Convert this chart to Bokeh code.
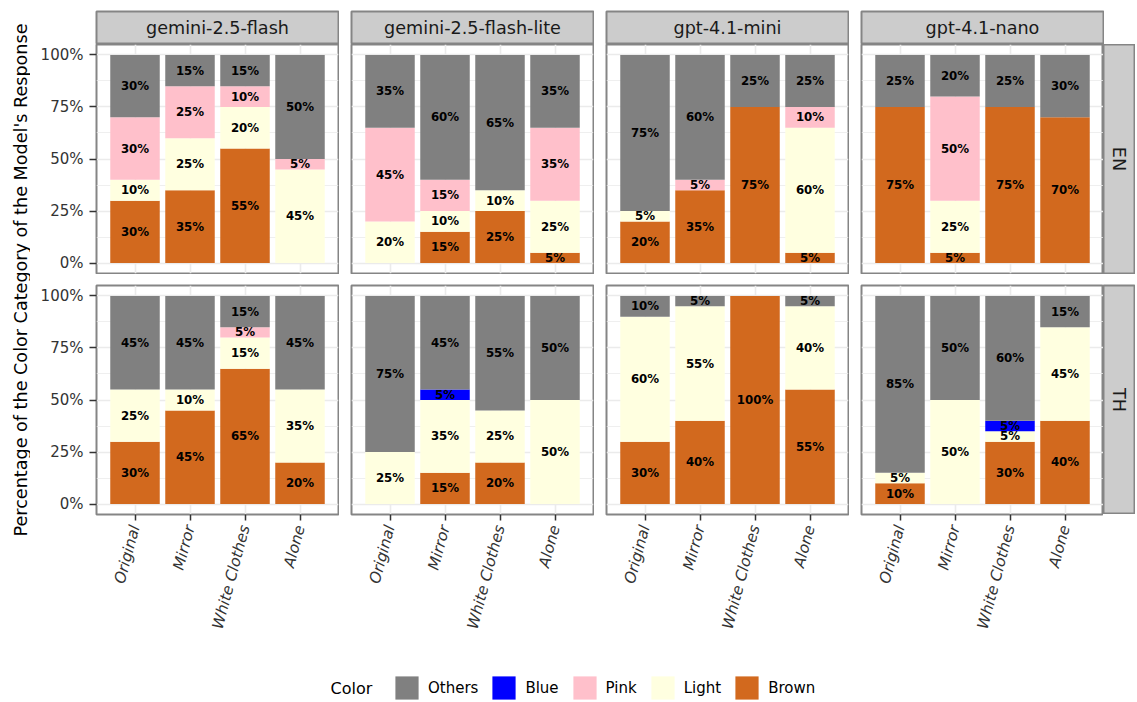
import math
from bokeh.plotting import figure
from bokeh.models import (ColumnDataSource, FactorRange, Range1d, FixedTicker,
                          NumeralTickFormatter, Legend, LegendItem, Label, Spacer)
from bokeh.layouts import row, column
from bokeh.core.properties import value
from bokeh.embed import file_html
from bokeh.resources import INLINE

# ---------------- data ----------------
models = ["gemini-2.5-flash", "gemini-2.5-flash-lite", "gpt-4.1-mini", "gpt-4.1-nano"]
languages = ["EN", "TH"]
conditions = ["Original", "Mirror", "White Clothes", "Alone"]
stack_order = ["Brown", "Light", "Pink", "Blue", "Others"]      # bottom -> top
legend_order = ["Others", "Blue", "Pink", "Light", "Brown"]

# percentages, model by model (4 conditions per model)
brown_EN  = [30, 35, 55, 0,   0, 15, 25, 5,   20, 35, 75, 5,   75, 5, 75, 70]
light_EN  = [10, 25, 20, 45,  20, 10, 10, 25,  5, 0, 0, 60,     0, 25, 0, 0]
pink_EN   = [30, 25, 10, 5,   45, 15, 0, 35,   0, 5, 0, 10,     0, 50, 0, 0]
blue_EN   = [0, 0, 0, 0,      0, 0, 0, 0,      0, 0, 0, 0,      0, 0, 0, 0]
others_EN = [30, 15, 15, 50,  35, 60, 65, 35,  75, 60, 25, 25,  25, 20, 25, 30]

brown_TH  = [30, 45, 65, 20,  0, 15, 20, 0,    30, 40, 100, 55, 10, 0, 30, 40]
light_TH  = [25, 10, 15, 35,  25, 35, 25, 50,  60, 55, 0, 40,   5, 50, 5, 45]
pink_TH   = [0, 0, 5, 0,      0, 0, 0, 0,      0, 0, 0, 0,      0, 0, 0, 0]
blue_TH   = [0, 0, 0, 0,      0, 5, 0, 0,      0, 0, 0, 0,      0, 0, 5, 0]
others_TH = [45, 45, 15, 45,  75, 45, 55, 50,  10, 5, 0, 5,     85, 50, 60, 15]

data = {
    "EN": {"Brown": brown_EN, "Light": light_EN, "Pink": pink_EN, "Blue": blue_EN, "Others": others_EN},
    "TH": {"Brown": brown_TH, "Light": light_TH, "Pink": pink_TH, "Blue": blue_TH, "Others": others_TH},
}

palette = {"Brown": "#D2691E", "Light": "#FFFFE0", "Pink": "#FFC0CB",
           "Blue": "#0000FF", "Others": "#808080"}

# ---------------- style ----------------
FONT = "DejaVu Sans"
BORDER = "#858585"
STRIP_BG = "#CCCCCC"
GRID = "#EBEBEB"
FW, FH = 242, 229
GAP = 11
TITLE_W = 30
LEFT_AXIS = 66


def make_panel(lang, mi):
    first = mi == 0
    last = mi == len(models) - 1
    bottom = lang == languages[-1]
    p = figure(x_range=FactorRange(factors=conditions, range_padding=0.2,
                                   range_padding_units="absolute"),
               y_range=Range1d(-0.05, 1.05),
               frame_width=FW, frame_height=FH,
               min_border_left=LEFT_AXIS if first else 1,
               min_border_right=0 if last else 1,
               min_border_top=1 if bottom else 0,
               min_border_bottom=0 if bottom else 1,
               x_axis_location="below" if bottom else None,
               y_axis_location="left" if first else None,
               toolbar_location=None, output_backend="svg")
    p.background_fill_color = "white"
    p.border_fill_color = "white"
    p.outline_line_color = BORDER
    p.outline_line_width = 2

    p.xgrid.grid_line_color = GRID
    p.xgrid.grid_line_width = 1.6
    p.ygrid.ticker = FixedTicker(ticks=[0, 0.25, 0.5, 0.75, 1.0],
                                 minor_ticks=[0.125, 0.375, 0.625, 0.875])
    p.ygrid.grid_line_color = GRID
    p.ygrid.grid_line_width = 1.6
    p.ygrid.minor_grid_line_color = GRID
    p.ygrid.minor_grid_line_width = 0.8

    vals = {c: data[lang][c][mi * 4:(mi + 1) * 4] for c in stack_order}
    src = ColumnDataSource(dict(cond=conditions, **{c: [v / 100 for v in vals[c]] for c in stack_order}))
    p.vbar_stack(stack_order, x="cond", width=0.9, source=src,
                 fill_color=[palette[c] for c in stack_order], line_color=None)

    lx, ly, lt = [], [], []
    for ci, cond in enumerate(conditions):
        base = 0.0
        for c in stack_order:
            v = vals[c][ci]
            if v > 0:
                lx.append(cond)
                ly.append((base + v / 2) / 100)
                lt.append(f"{v}%")
            base += v
    p.text(x="cond", y="y", text="t", source=ColumnDataSource(dict(cond=lx, y=ly, t=lt)),
           text_font=value(FONT), text_font_size="11.8px", text_font_style="bold",
           text_align="center", text_baseline="middle", text_color="black")

    if first:
        ax = p.yaxis[0]
        ax.ticker = FixedTicker(ticks=[0, 0.25, 0.5, 0.75, 1.0])
        ax.formatter = NumeralTickFormatter(format="0%")
        ax.major_label_text_font = FONT
        ax.major_label_text_font_size = "15px"
        ax.major_label_text_color = "#333333"
        ax.axis_line_color = None
        ax.minor_tick_line_color = None
        ax.major_tick_in = 0
        ax.major_tick_out = 7
        ax.major_tick_line_color = "#333333"
        ax.major_tick_line_width = 1.5
        ax.major_label_standoff = 6
    if bottom:
        ax = p.xaxis[0]
        ax.major_label_orientation = math.radians(75)
        ax.major_label_text_font = FONT
        ax.major_label_text_font_size = "15.3px"
        ax.major_label_text_font_style = "italic"
        ax.major_label_text_color = "#333333"
        ax.axis_line_color = None
        ax.minor_tick_line_color = None
        ax.major_tick_in = 0
        ax.major_tick_out = 6
        ax.major_tick_line_color = "#333333"
        ax.major_tick_line_width = 1.5
        ax.major_label_standoff = 5
    return p


def make_strip(text, fw, fh, vertical, left, right, top, bottom):
    s = figure(x_range=Range1d(0, 1), y_range=Range1d(0, 1),
               frame_width=fw, frame_height=fh,
               min_border_left=left, min_border_right=right,
               min_border_top=top, min_border_bottom=bottom,
               x_axis_type=None, y_axis_type=None,
               toolbar_location=None, output_backend="svg")
    s.background_fill_color = STRIP_BG
    s.border_fill_color = "white"
    s.outline_line_color = BORDER
    s.outline_line_width = 2
    s.xgrid.visible = False
    s.ygrid.visible = False
    s.text(x=[0.5], y=[0.5], text=[text], angle=-math.pi / 2 if vertical else 0,
           text_font=value(FONT), text_font_size="17.6px", text_color="#1A1A1A",
           text_align="center", text_baseline="middle")
    return s


# top strips
top_children = [Spacer(width=LEFT_AXIS - 1, height=44)]
for mi, m in enumerate(models):
    if mi > 0:
        top_children.append(Spacer(width=GAP, height=44))
    top_children.append(make_strip(m, FW, 33, False, 1, 1, 11, 0))
top_row = row(*top_children)

panel_rows = []
for li, lang in enumerate(languages):
    kids = []
    for mi in range(len(models)):
        if mi > 0:
            kids.append(Spacer(width=GAP, height=10))
        kids.append(make_panel(lang, mi))
    bottom = li == len(languages) - 1
    kids.append(make_strip(lang, 31, FH, True, 0, 1, 1 if bottom else 0, 0 if bottom else 1))
    panel_rows.append(row(*kids))
    if li == 0:
        panel_rows.append(Spacer(width=10, height=10))

# y-axis title (spans the full height of the panel area)
TH_ = 600
t = figure(x_range=Range1d(0, TITLE_W), y_range=Range1d(0, TH_),
           frame_width=TITLE_W, frame_height=TH_,
           min_border=0, x_axis_type=None, y_axis_type=None,
           toolbar_location=None, output_backend="svg")
t.outline_line_color = None
t.xgrid.visible = False
t.ygrid.visible = False
t.text(x=[20], y=[TH_ - 279.5], text=["Percentage of the Color Category of the Model's Response"],
       angle=math.pi / 2, text_font=value(FONT), text_font_size="17.6px", text_color="black",
       text_align="center", text_baseline="middle")

main = row(t, column(top_row, *panel_rows))

# legend
lf = figure(x_range=Range1d(0, 1), y_range=Range1d(0, 1), frame_width=1136, frame_height=66,
            min_border=0, x_axis_type=None, y_axis_type=None,
            toolbar_location=None, output_backend="svg")
lf.outline_line_color = None
lf.xgrid.visible = False
lf.ygrid.visible = False
items = []
for c in legend_order:
    r = lf.vbar(x=[0], top=[0], width=0, fill_color=palette[c], line_color=None)
    items.append(LegendItem(label=c, renderers=[r]))
leg = Legend(items=items, orientation="horizontal", location=(392, 0),
             glyph_width=29, glyph_height=29, label_standoff=7, spacing=11,
             padding=0, margin=0, border_line_color=None, background_fill_alpha=0,
             label_text_font=FONT, label_text_font_size="15px", label_text_color="black")
lf.add_layout(leg, "center")
lf.add_layout(Label(x=330, y=14.5, x_units="screen", y_units="screen", text="Color",
                    text_font=FONT, text_font_size="16px", text_baseline="middle",
                    text_align="left", text_color="black"))

layout = column(main, lf)

open("out.html", "w").write(file_html(layout, INLINE))
